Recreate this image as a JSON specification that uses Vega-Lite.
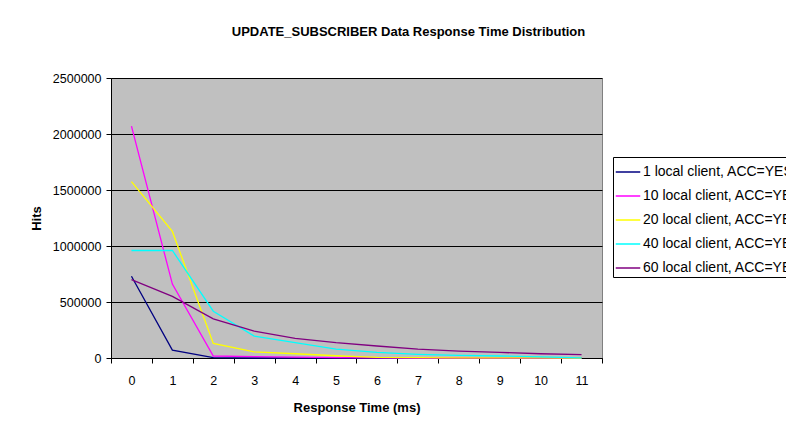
{
  "$schema": "https://vega.github.io/schema/vega-lite/v6.json",
  "autosize": {"type": "none"},
  "width": 491,
  "height": 280,
  "padding": {"left": 111, "top": 78, "right": 184, "bottom": 71},
  "background": "white",
  "title": {
    "text": "UPDATE_SUBSCRIBER Data Response Time Distribution",
    "font": "Liberation Sans",
    "fontSize": 13,
    "fontWeight": "bold",
    "color": "black",
    "anchor": "middle",
    "dx": 52,
    "offset": 33
  },
  "config": {
    "font": "Liberation Sans",
    "view": {"fill": "#C0C0C0", "stroke": "#808080", "strokeWidth": 1},
    "axis": {
      "labelFont": "Liberation Sans",
      "labelFontSize": 12.5,
      "labelColor": "black",
      "titleFont": "Liberation Sans",
      "titleFontSize": 13,
      "titleFontWeight": "bold",
      "titleColor": "black",
      "domainColor": "black",
      "tickColor": "black",
      "tickSize": 5
    },
    "legend": {
      "labelFont": "Liberation Sans",
      "labelFontSize": 14,
      "labelColor": "black"
    }
  },
  "data": {
    "values": [
      {"t": 0, "s": "1 local client, ACC=YES", "hits": 730000},
      {"t": 1, "s": "1 local client, ACC=YES", "hits": 70000},
      {"t": 2, "s": "1 local client, ACC=YES", "hits": 3000},
      {"t": 3, "s": "1 local client, ACC=YES", "hits": 0},
      {"t": 4, "s": "1 local client, ACC=YES", "hits": 0},
      {"t": 5, "s": "1 local client, ACC=YES", "hits": 0},
      {"t": 6, "s": "1 local client, ACC=YES", "hits": 0},
      {"t": 7, "s": "1 local client, ACC=YES", "hits": 0},
      {"t": 8, "s": "1 local client, ACC=YES", "hits": 0},
      {"t": 9, "s": "1 local client, ACC=YES", "hits": 0},
      {"t": 10, "s": "1 local client, ACC=YES", "hits": 0},
      {"t": 11, "s": "1 local client, ACC=YES", "hits": 0},
      {"t": 0, "s": "10 local client, ACC=YES", "hits": 2070000},
      {"t": 1, "s": "10 local client, ACC=YES", "hits": 660000},
      {"t": 2, "s": "10 local client, ACC=YES", "hits": 18000},
      {"t": 3, "s": "10 local client, ACC=YES", "hits": 12000},
      {"t": 4, "s": "10 local client, ACC=YES", "hits": 8000},
      {"t": 5, "s": "10 local client, ACC=YES", "hits": 4000},
      {"t": 6, "s": "10 local client, ACC=YES", "hits": 1000},
      {"t": 7, "s": "10 local client, ACC=YES", "hits": 0},
      {"t": 8, "s": "10 local client, ACC=YES", "hits": 0},
      {"t": 9, "s": "10 local client, ACC=YES", "hits": 0},
      {"t": 10, "s": "10 local client, ACC=YES", "hits": 0},
      {"t": 11, "s": "10 local client, ACC=YES", "hits": 0},
      {"t": 0, "s": "20 local client, ACC=YES", "hits": 1575000},
      {"t": 1, "s": "20 local client, ACC=YES", "hits": 1130000},
      {"t": 2, "s": "20 local client, ACC=YES", "hits": 130000},
      {"t": 3, "s": "20 local client, ACC=YES", "hits": 54000},
      {"t": 4, "s": "20 local client, ACC=YES", "hits": 38000},
      {"t": 5, "s": "20 local client, ACC=YES", "hits": 20000},
      {"t": 6, "s": "20 local client, ACC=YES", "hits": 5000},
      {"t": 7, "s": "20 local client, ACC=YES", "hits": 3000},
      {"t": 8, "s": "20 local client, ACC=YES", "hits": 2000},
      {"t": 9, "s": "20 local client, ACC=YES", "hits": 1000},
      {"t": 10, "s": "20 local client, ACC=YES", "hits": 500},
      {"t": 11, "s": "20 local client, ACC=YES", "hits": 0},
      {"t": 0, "s": "40 local client, ACC=YES", "hits": 960000},
      {"t": 1, "s": "40 local client, ACC=YES", "hits": 960000},
      {"t": 2, "s": "40 local client, ACC=YES", "hits": 418000},
      {"t": 3, "s": "40 local client, ACC=YES", "hits": 196000},
      {"t": 4, "s": "40 local client, ACC=YES", "hits": 137000},
      {"t": 5, "s": "40 local client, ACC=YES", "hits": 80000},
      {"t": 6, "s": "40 local client, ACC=YES", "hits": 50000},
      {"t": 7, "s": "40 local client, ACC=YES", "hits": 33000},
      {"t": 8, "s": "40 local client, ACC=YES", "hits": 24000},
      {"t": 9, "s": "40 local client, ACC=YES", "hits": 18000},
      {"t": 10, "s": "40 local client, ACC=YES", "hits": 10000},
      {"t": 11, "s": "40 local client, ACC=YES", "hits": 2000},
      {"t": 0, "s": "60 local client, ACC=YES", "hits": 700000},
      {"t": 1, "s": "60 local client, ACC=YES", "hits": 550000},
      {"t": 2, "s": "60 local client, ACC=YES", "hits": 350000},
      {"t": 3, "s": "60 local client, ACC=YES", "hits": 240000},
      {"t": 4, "s": "60 local client, ACC=YES", "hits": 176000},
      {"t": 5, "s": "60 local client, ACC=YES", "hits": 137000},
      {"t": 6, "s": "60 local client, ACC=YES", "hits": 107000},
      {"t": 7, "s": "60 local client, ACC=YES", "hits": 80000},
      {"t": 8, "s": "60 local client, ACC=YES", "hits": 62000},
      {"t": 9, "s": "60 local client, ACC=YES", "hits": 50000},
      {"t": 10, "s": "60 local client, ACC=YES", "hits": 38000},
      {"t": 11, "s": "60 local client, ACC=YES", "hits": 30000}
    ]
  },
  "mark": {"type": "line", "strokeWidth": 1.3},
  "encoding": {
    "x": {
      "field": "t",
      "type": "ordinal",
      "bandPosition": 0.5,
      "scale": {"type": "band", "paddingInner": 0, "paddingOuter": 0},
      "axis": {
        "title": "Response Time (ms)",
        "labelAngle": 0,
        "tickBand": "extent",
        "labelPadding": 11,
        "titlePadding": 15,
        "grid": false
      }
    },
    "y": {
      "field": "hits",
      "type": "quantitative",
      "scale": {"domain": [0, 2500000], "nice": false},
      "axis": {
        "title": "Hits",
        "values": [0, 500000, 1000000, 1500000, 2000000, 2500000],
        "format": "d",
        "grid": true,
        "gridColor": "black",
        "gridOpacity": 1,
        "labelPadding": 5,
        "titlePadding": 9
      }
    },
    "color": {
      "field": "s",
      "type": "nominal",
      "scale": {
        "domain": ["1 local client, ACC=YES", "10 local client, ACC=YES", "20 local client, ACC=YES", "40 local client, ACC=YES", "60 local client, ACC=YES"],
        "range": ["#000080", "#FF00FF", "#FFFF00", "#00FFFF", "#800080"]
      },
      "legend": {
        "title": null,
        "orient": "none",
        "legendX": 502,
        "legendY": 79,
        "strokeColor": "black",
        "fillColor": "white",
        "padding": 2,
        "symbolType": "stroke",
        "symbolSize": 600,
        "symbolStrokeWidth": 1.5,
        "labelOffset": 2,
        "rowPadding": 4,
        "labelLimit": 400
      }
    }
  }
}
